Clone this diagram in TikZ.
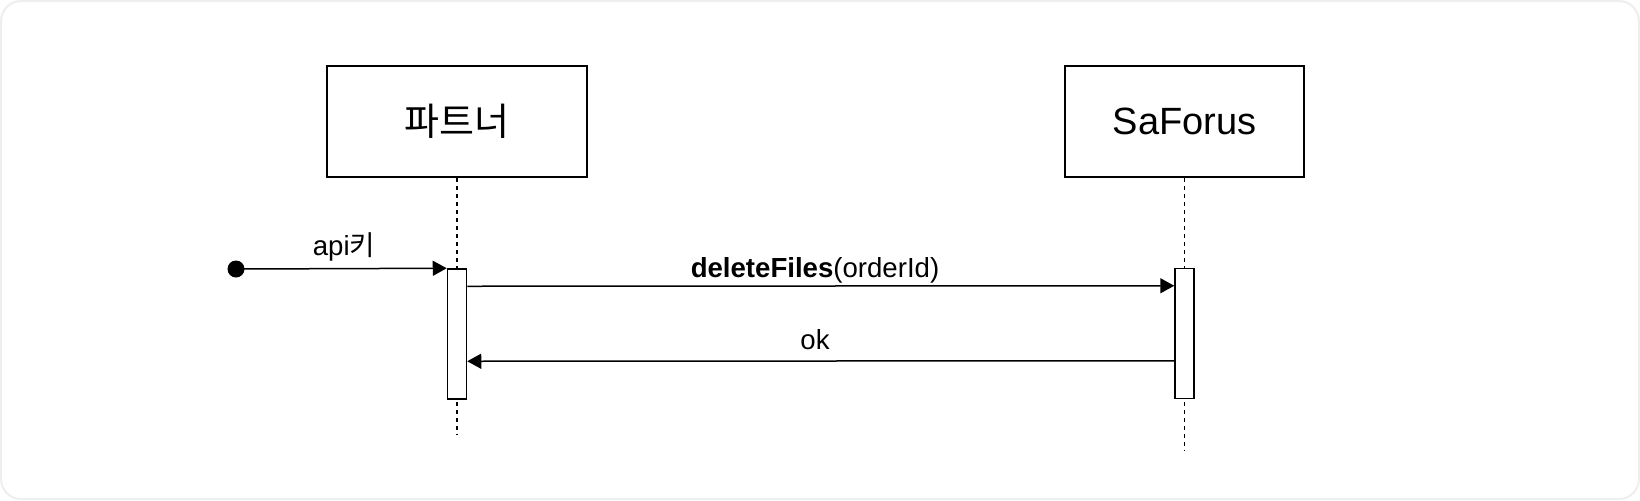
\documentclass[tikz,border=0pt]{standalone}
\usepackage{fontspec}
\setmainfont{Liberation Sans}
\newfontfamily\kr{Noto Sans CJK KR}
\usetikzlibrary{arrows.meta}
\definecolor{framegray}{RGB}{238,238,238}
\begin{document}
\begin{tikzpicture}[x=0.5pt, y=-0.5pt,
  actor/.style={shape=rectangle, draw=black, line width=0.75pt, minimum height=55.5pt, font=\fontsize{19}{23}\selectfont},
  bar/.style={shape=rectangle, draw=black, fill=white, line width=0.75pt, minimum width=9.5pt, minimum height=65pt, inner sep=0pt},
  msg/.style={-{Triangle[length=7pt,width=7.5pt]}, line width=0.75pt},
  life/.style={dash pattern=on 2pt off 2pt, line width=0.75pt},
  lbl/.style={anchor=base, inner sep=0pt, font=\fontsize{13.8}{17}\selectfont}]
\useasboundingbox (0,0) rectangle (1640,500);
\draw[framegray, line width=1pt, rounded corners=10pt] (1,1) rectangle (1639,499);
% participants
\node[actor, minimum width=130pt] (partner) at (457,121.5) {\kr 파트너};
\node[actor, minimum width=119.5pt] (saforus) at (1184.5,121.5) {SaForus};
\coordinate (end1) at (457,434);
\coordinate (end2) at (1184.5,450);
\draw[life] (partner) -- (end1);
\draw[life] (saforus) -- (end2);
% activations
\node[bar] (act1) at (457,334) {};
\node[bar] (act2) at (1184.5,333.5) {};
\node[shape=circle, fill=black, minimum size=8.5pt, inner sep=0pt] (start) at (236,269) {};
% messages
\draw[msg] (start.center) -- (act1.north west);
\draw[msg] ([yshift=-9pt]act1.north east) -- ([yshift=-9pt]act2.north west);
\draw[msg] ([yshift=-46.5pt]act2.north west) -- ([yshift=-46.5pt]act1.north east);
\node[lbl] (keylbl) at (344,255) {api{\kr 키}};
\node[lbl] (dellbl) at (815,277) {\textbf{deleteFiles}(orderId)};
\node[lbl] (oklbl) at (815,349) {ok};
\end{tikzpicture}
\end{document}
